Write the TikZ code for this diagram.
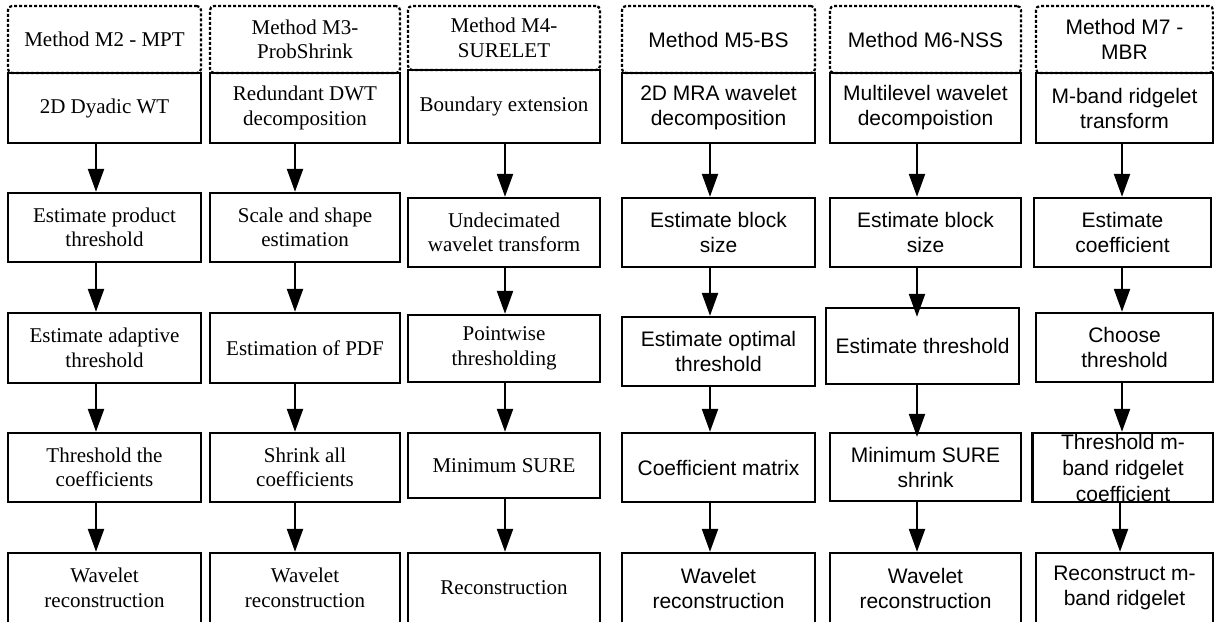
\documentclass[tikz,border=0pt]{standalone}
\usepackage{fontspec}
\setmainfont{Liberation Serif}
\newfontfamily\arialf{Liberation Sans}
\usetikzlibrary{arrows.meta}
\tikzset{
  base/.style={line width=2.4pt, align=center, inner sep=0pt},
  sbox/.style={base, draw, font=\fontsize{21}{24.5}\selectfont},
  abox/.style={base, draw, font=\arialf\fontsize{21}{25}\selectfont},
  shead/.style={sbox, line width=2.2pt, dash pattern=on 3pt off 2pt, rounded corners=4pt},
  ahead/.style={abox, line width=2.2pt, dash pattern=on 3pt off 2pt, rounded corners=4pt},
  arr/.style={line width=2.3pt, -{Triangle[length=23pt,width=16pt]}},
}
\begin{document}
\begin{tikzpicture}[x=1pt,y=-1pt]
\useasboundingbox (0,0) rectangle (1214,621);
% Column 1
\node[shead, minimum width=193pt, minimum height=67pt] (h1) at (104.5,39.5) {Method M2 - MPT};
\node[sbox, minimum width=193pt, minimum height=70pt] (a1) at (104.5,108) {2D Dyadic WT};
\node[sbox, minimum width=193pt, minimum height=69pt] (a2) at (104.5,227.5) {Estimate product\\threshold};
\node[sbox, minimum width=193pt, minimum height=70pt] (a3) at (104.5,348) {Estimate adaptive\\threshold};
\node[sbox, minimum width=193pt, minimum height=69pt] (a4) at (104.5,467.5) {Threshold the\\coefficients};
\node[sbox, minimum width=193pt, minimum height=70pt] (a5) at (104.5,588) {Wavelet\\reconstruction};
% Column 2
\node[shead, minimum width=190pt, minimum height=67pt] (h2) at (305,39.5) {Method M3-\\ProbShrink};
\node[sbox, minimum width=190pt, minimum height=70pt] (b1) at (305,108) {Redundant DWT\\decomposition};
\node[sbox, minimum width=190pt, minimum height=69pt] (b2) at (305,227.5) {Scale and shape\\estimation};
\node[sbox, minimum width=190pt, minimum height=70pt] (b3) at (305,348) {Estimation of PDF};
\node[sbox, minimum width=190pt, minimum height=69pt] (b4) at (305,467.5) {Shrink all\\coefficients};
\node[sbox, minimum width=190pt, minimum height=70pt] (b5) at (305,588) {Wavelet\\reconstruction};
% Column 3
\node[shead, minimum width=192pt, minimum height=64pt] (h3) at (504,38) {Method M4-\\SURELET};
\node[sbox, minimum width=192pt, minimum height=73pt] (c1) at (504,106.5) {Boundary extension};
\node[sbox, minimum width=192pt, minimum height=69pt] (c2) at (504,232.5) {Undecimated\\wavelet transform};
\node[sbox, minimum width=192pt, minimum height=67pt] (c3) at (504,348.5) {Pointwise\\thresholding};
\node[sbox, minimum width=192pt, minimum height=65pt] (c4) at (504,465.5) {Minimum SURE};
\node[sbox, minimum width=192pt, minimum height=70pt] (c5) at (504,588) {Reconstruction};
% Column 4
\node[ahead, minimum width=193pt, minimum height=67pt] (h4) at (718.5,39.5) {Method M5-BS};
\node[abox, minimum width=193pt, minimum height=70pt] (d1) at (718.5,108) {2D MRA wavelet\\decomposition};
\node[abox, minimum width=193pt, minimum height=69pt] (d2) at (718.5,232.5) {Estimate block\\size};
\node[abox, minimum width=193pt, minimum height=69pt] (d3) at (718.5,351.5) {Estimate optimal\\threshold};
\node[abox, minimum width=193pt, minimum height=69pt] (d4) at (718.5,467.5) {Coefficient matrix};
\node[abox, minimum width=193pt, minimum height=70pt] (d5) at (718.5,588) {Wavelet\\reconstruction};
% Column 5
\node[ahead, minimum width=191pt, minimum height=67pt] (h5) at (925.5,39.5) {Method M6-NSS};
\node[abox, minimum width=191pt, minimum height=70pt] (e1) at (925.5,108) {Multilevel wavelet\\decompoistion};
\node[abox, minimum width=191pt, minimum height=69pt] (e2) at (925.5,232.5) {Estimate block\\size};
\node[abox, minimum width=193pt, minimum height=76pt] (e3) at (922.5,346) {Estimate threshold};
\node[abox, minimum width=191pt, minimum height=68pt] (e4) at (925.5,467) {Minimum SURE\\shrink};
\node[abox, minimum width=191pt, minimum height=70pt] (e5) at (925.5,588) {Wavelet\\reconstruction};
% Column 6
\node[ahead, minimum width=177pt, minimum height=67pt] (h6) at (1124.5,39.5) {Method M7 -\\MBR};
\node[abox, minimum width=177pt, minimum height=70pt] (f1) at (1124.5,108) {M-band ridgelet\\transform};
\node[abox, minimum width=177pt, minimum height=69pt] (f2) at (1122.5,232.5) {Estimate\\coefficient};
\node[abox, minimum width=177pt, minimum height=69pt] (f3) at (1124.5,347.5) {Choose\\threshold};
\node[abox, minimum width=181pt, minimum height=69pt, font=\arialf\fontsize{21}{26}\selectfont] (f4) at (1123,467.5) {Threshold m-\\band ridgelet\\coefficient};
\node[abox, minimum width=177pt, minimum height=70pt] (f5) at (1124.5,588) {Reconstruct m-\\band ridgelet};
% Arrows
\foreach \p/\q in {a1/a2,a2/a3,a3/a4,a4/a5}
  \draw[arr] ([xshift=-8.5pt]\p.south) -- ([xshift=-8.5pt]\q.north);
\foreach \p/\q in {b1/b2,b2/b3,b3/b4,b4/b5}
  \draw[arr] ([xshift=-10pt]\p.south) -- ([xshift=-10pt]\q.north);
\foreach \p/\q in {c1/c2,c2/c3,c3/c4,c4/c5}
  \draw[arr] ([xshift=1pt]\p.south) -- ([xshift=1pt]\q.north);
\foreach \p/\q in {d1/d2,d2/d3,d3/d4,d4/d5}
  \draw[arr] ([xshift=-8.5pt]\p.south) -- ([xshift=-8.5pt]\q.north);
\draw[arr] ([xshift=-8.5pt]e1.south) -- ([xshift=-8.5pt]e2.north);
\draw[arr, shorten >=-10pt] ([xshift=-8.5pt]e2.south) -- ([xshift=-5.5pt]e3.north);
\draw[arr, shorten >=-5pt] ([xshift=-5.5pt]e3.south) -- ([xshift=-8.5pt]e4.north);
\draw[arr] ([xshift=-8.5pt]e4.south) -- ([xshift=-8.5pt]e5.north);
\draw[arr] ([xshift=-2.5pt]f1.south) -- ([xshift=-0.5pt]f2.north);
\draw[arr] ([xshift=-0.5pt]f2.south) -- ([xshift=-2.5pt]f3.north);
\draw[arr] ([xshift=-2.5pt]f3.south) -- ([xshift=-1pt]f4.north);
\draw[arr] ([xshift=-3pt]f4.south) -- ([xshift=-4.5pt]f5.north);
\end{tikzpicture}
\end{document}
